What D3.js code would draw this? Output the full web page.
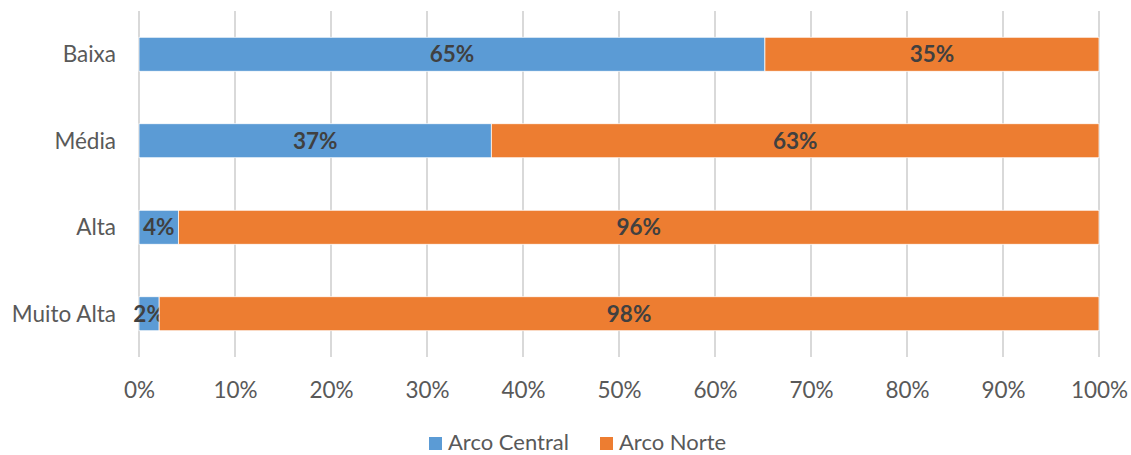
<!DOCTYPE html>
<html><head><meta charset="utf-8">
<script src="https://cdn.jsdelivr.net/npm/d3@7/dist/d3.min.js"></script>
<style>body{margin:0;background:#fff;} svg{display:block;}</style>
</head><body>
<svg id="c" width="1131" height="455"></svg>
<script>
const categories = ["Baixa", "Média", "Alta", "Muito Alta"];
const arcoCentral = [65.2, 36.7, 4.1, 2.1];
const arcoNorte = [34.8, 63.3, 95.9, 97.9];
const centralLabels = ["65%", "37%", "4%", "2%"];
const norteLabels = ["35%", "63%", "96%", "98%"];
const seriesNames = ["Arco Central", "Arco Norte"];
const tickValues = [0,10,20,30,40,50,60,70,80,90,100];

const colors = ["#5B9BD5", "#ED7D31"];
const font = "Lato, 'Open Sans', sans-serif";
const fs = 22.5;
const svg = d3.select("#c");
const x = d3.scaleLinear().domain([0,100]).range([139,1099]);
const y = d3.scaleBand().domain(categories).range([11,357]).paddingInner(0.607).paddingOuter(0.3035);

// gridlines
svg.append("g").selectAll("line").data(tickValues).join("line")
  .attr("x1", d=>x(d)).attr("x2", d=>x(d)).attr("y1", 11).attr("y2", 357)
  .attr("stroke", "#D9D9D9").attr("stroke-width", 2);

const rows = categories.map((c,i)=>({c, v:[arcoCentral[i], arcoNorte[i]], l:[centralLabels[i], norteLabels[i]]}));
rows.forEach(r=>{
  let acc = 0;
  r.v.forEach((v,j)=>{
    svg.append("rect").attr("x", x(acc)).attr("width", x(acc+v)-x(acc))
      .attr("y", y(r.c)).attr("height", y.bandwidth())
      .attr("fill", colors[j]).attr("stroke", "#fff").attr("stroke-width", 0.75);
    svg.append("text").attr("x", (x(acc)+x(acc+v))/2).attr("y", y(r.c)+y.bandwidth()/2)
      .attr("dy", "0.36em").attr("text-anchor", "middle")
      .attr("font-family", font).attr("font-weight", "bold").attr("font-size", fs)
      .attr("fill", "#404040").text(r.l[j]);
    acc += v;
  });
});

// y axis labels
svg.append("g").selectAll("text").data(categories).join("text")
  .attr("x", 116).attr("y", d=>y(d)+y.bandwidth()/2).attr("dy", "0.36em")
  .attr("text-anchor", "end").attr("font-family", font).attr("font-size", fs)
  .attr("fill", "#595959").text(d=>d);

// x axis labels
const xAxis = d3.axisBottom(x).tickValues(tickValues).tickFormat(d=>d+"%").tickSize(0).tickPadding(0);
const gx = svg.append("g").attr("transform", "translate(0,390)").call(xAxis);
gx.select(".domain").remove();
gx.selectAll("text").attr("y", 0).attr("dy", "0.36em").attr("font-family", font).attr("font-size", fs).attr("fill", "#595959");

// legend
const leg = [{n:seriesNames[0], c:colors[0], x:429},{n:seriesNames[1], c:colors[1], x:600}];
leg.forEach(l=>{
  svg.append("rect").attr("x", l.x).attr("y", 437).attr("width", 13).attr("height", 13).attr("fill", l.c);
  svg.append("text").attr("x", l.x+19).attr("y", 450).attr("font-family", font).attr("font-size", 22)
    .attr("fill", "#595959").text(l.n);
});
</script>
</body></html>
